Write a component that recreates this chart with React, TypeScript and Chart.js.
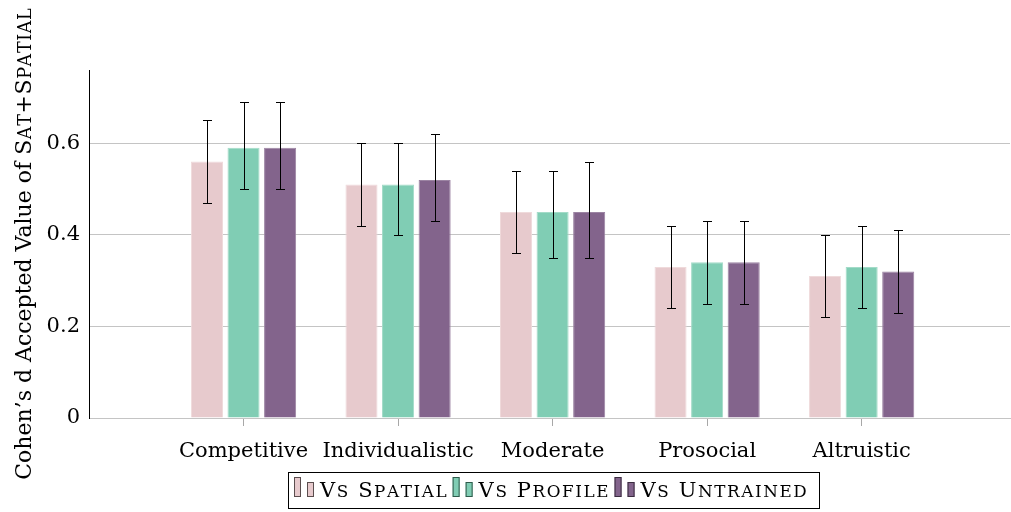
import React, { useEffect, useRef } from 'react';
import { Chart, registerables } from 'chart.js';

Chart.register(...registerables);

// ---- data ----
const categories = ['Competitive', 'Individualistic', 'Moderate', 'Prosocial', 'Altruistic'];
const seriesNames = ['Vs Spatial', 'Vs Profile', 'Vs Untrained'];

const vsSpatial = [0.56, 0.51, 0.45, 0.33, 0.31];
const vsSpatialLow = [0.47, 0.42, 0.36, 0.24, 0.22];
const vsSpatialHigh = [0.65, 0.6, 0.54, 0.42, 0.4];

const vsProfile = [0.59, 0.51, 0.45, 0.34, 0.33];
const vsProfileLow = [0.5, 0.4, 0.35, 0.25, 0.24];
const vsProfileHigh = [0.69, 0.6, 0.54, 0.43, 0.42];

const vsUntrained = [0.59, 0.52, 0.45, 0.34, 0.32];
const vsUntrainedLow = [0.5, 0.43, 0.35, 0.25, 0.23];
const vsUntrainedHigh = [0.69, 0.62, 0.56, 0.43, 0.41];

const yTicks = [0, 0.2, 0.4, 0.6];
const yTickLabels = ['0', '0.2', '0.4', '0.6'];
const yTitleMain = 'Cohen\u2019s d Accepted Value of ';
const yTitleSmallCaps = 'Sat+Spatial';

// ---- styles ----
const FONT = '"DejaVu Serif", serif';
const FONT_SIZE = 21;
const TITLE_SIZE = 22;
const fills = ['#e7cacd', '#80cdb4', '#83648c'];
const edges = ['#efdadb', '#a3dbc8', '#9c84a3'];
const legendEdges = ['#5a4d4e', '#2f5a4b', '#3a2c3f'];

const seriesValues = [vsSpatial, vsProfile, vsUntrained];
const seriesLow = [vsSpatialLow, vsProfileLow, vsUntrainedLow];
const seriesHigh = [vsSpatialHigh, vsProfileHigh, vsUntrainedHigh];

// manual small caps: capitals at full size, lower case as capitals at reduced size
function smallCaps(ctx: CanvasRenderingContext2D, text: string, x: number, y: number, size: number, spacing: number, draw: boolean): number {
  let cx = x;
  for (const ch of text) {
    const lower = ch !== ch.toUpperCase();
    ctx.font = `${lower ? size * 0.8 : size}px ${FONT}`;
    const g = lower ? ch.toUpperCase() : ch;
    if (draw) ctx.fillText(g, cx, y);
    cx += ctx.measureText(g).width + spacing;
  }
  return cx - x - spacing;
}

const errorBarPlugin = {
  id: 'errorBars',
  afterDatasetsDraw(chart: any) {
    const { ctx } = chart;
    const y = chart.scales.y;
    ctx.save();
    ctx.strokeStyle = '#000';
    ctx.lineWidth = 1;
    chart.data.datasets.forEach((_ds: any, s: number) => {
      const meta = chart.getDatasetMeta(s);
      meta.data.forEach((bar: any, i: number) => {
        const x = Math.round(bar.x) + 0.5;
        const yl = Math.round(y.getPixelForValue(seriesLow[s][i])) + 0.5;
        const yh = Math.round(y.getPixelForValue(seriesHigh[s][i])) + 0.5;
        ctx.beginPath();
        ctx.moveTo(x, yl);
        ctx.lineTo(x, yh);
        ctx.moveTo(x - 4.5, yh);
        ctx.lineTo(x + 4.5, yh);
        ctx.moveTo(x - 4.5, yl);
        ctx.lineTo(x + 4.5, yl);
        ctx.stroke();
      });
    });
    ctx.restore();
  },
};

const decorPlugin = {
  id: 'decor',
  afterDraw(chart: any) {
    const { ctx, chartArea } = chart;

    // y-axis title (mixed roman + small caps)
    ctx.save();
    ctx.fillStyle = '#000';
    ctx.textBaseline = 'alphabetic';
    ctx.textAlign = 'left';
    ctx.font = `${TITLE_SIZE}px ${FONT}`;
    const w1 = ctx.measureText(yTitleMain).width;
    const w2 = smallCaps(ctx, yTitleSmallCaps, 0, 0, TITLE_SIZE, 0.6, false);
    const cy = (chartArea.top + chartArea.bottom) / 2;
    ctx.translate(31, cy);
    ctx.rotate(-Math.PI / 2);
    const start = -(w1 + w2) / 2;
    ctx.font = `${TITLE_SIZE}px ${FONT}`;
    ctx.fillText(yTitleMain, start, 0);
    smallCaps(ctx, yTitleSmallCaps, start + w1, 0, TITLE_SIZE, 0.6, true);
    ctx.restore();

    // legend
    ctx.save();
    const LS = FONT_SIZE;
    const LSP = 1.6;
    const widths = seriesNames.map((n) => smallCaps(ctx, n, 0, 0, LS, LSP, false));
    const padL = 6;
    const padR = 12;
    const gap = 6;
    const markerW = 26;
    const total = padL + padR + widths.reduce((a, w) => a + markerW + w, 0) + gap * (seriesNames.length - 1);
    const cx = (chartArea.left + chartArea.right) / 2 + 4;
    const left = Math.round(cx - total / 2);
    const top = chartArea.bottom + 54;
    const h = 36;
    ctx.strokeStyle = '#000';
    ctx.lineWidth = 1;
    ctx.strokeRect(left + 0.5, top + 0.5, Math.round(total), h);
    let x = left + padL;
    const base = top + 25;
    seriesNames.forEach((name, s) => {
      ctx.fillStyle = fills[s];
      ctx.strokeStyle = legendEdges[s];
      ctx.fillRect(x, base - 20, 7, 20);
      ctx.strokeRect(x + 0.5, base - 19.5, 6, 19);
      ctx.fillRect(x + 13, base - 15, 7, 15);
      ctx.strokeRect(x + 13.5, base - 14.5, 6, 14);
      ctx.fillStyle = '#000';
      ctx.textBaseline = 'alphabetic';
      ctx.textAlign = 'left';
      smallCaps(ctx, name, x + markerW, base, LS, LSP, true);
      x += markerW + widths[s] + gap;
    });
    ctx.restore();
  },
};

export default function App() {
  const ref = useRef<HTMLCanvasElement>(null);

  useEffect(() => {
    document.body.style.margin = '0';
    const canvas = ref.current;
    if (!canvas) return;
    const chart = new Chart(canvas, {
      type: 'bar',
      data: {
        datasets: seriesNames.map((name, s) => ({
          label: name,
          data: seriesValues[s].map((v, i) => ({ x: i + 1, y: v })),
          backgroundColor: fills[s],
          borderColor: edges[s],
          borderWidth: 1,
          categoryPercentage: 0.71,
          barPercentage: 0.877,
        })),
      },
      options: {
        animation: false,
        responsive: false,
        devicePixelRatio: 1,
        layout: { padding: { top: 70, right: 1, bottom: 44, left: 0 } },
        plugins: {
          legend: { display: false },
          tooltip: { enabled: false },
        },
        scales: {
          x: {
            type: 'linear',
            min: 0,
            max: 5.96,
            offset: false,
            afterBuildTicks: (s: any) => {
              s.ticks = categories.map((_c, i) => ({ value: i + 1 }));
            },
            ticks: {
              callback: (_v: any, i: number) => categories[i] ?? '',
              font: { family: FONT, size: FONT_SIZE },
              color: '#000',
              padding: 13,
              maxRotation: 0,
              autoSkip: false,
            },
            grid: { offset: false, drawOnChartArea: false, tickLength: 8, color: '#a8a8a8' },
            border: { color: '#c4c4c4' },
            afterFit: (s: any) => {
              s.height = 50;
            },
          },
          y: {
            min: 0,
            max: 0.76,
            afterBuildTicks: (s: any) => {
              s.ticks = yTicks.map((v) => ({ value: v }));
            },
            ticks: {
              callback: (_v: any, i: number) => yTickLabels[i],
              font: { family: FONT, size: FONT_SIZE },
              color: '#000',
              padding: 9,
            },
            grid: { color: '#c4c4c4', drawTicks: false },
            border: { color: '#000' },
            afterFit: (s: any) => {
              s.width = 89;
            },
          },
        },
      } as any,
      plugins: [errorBarPlugin, decorPlugin],
    });
    return () => chart.destroy();
  }, []);

  return <canvas ref={ref} width={1011} height={512} style={{ display: 'block' }} />;
}
